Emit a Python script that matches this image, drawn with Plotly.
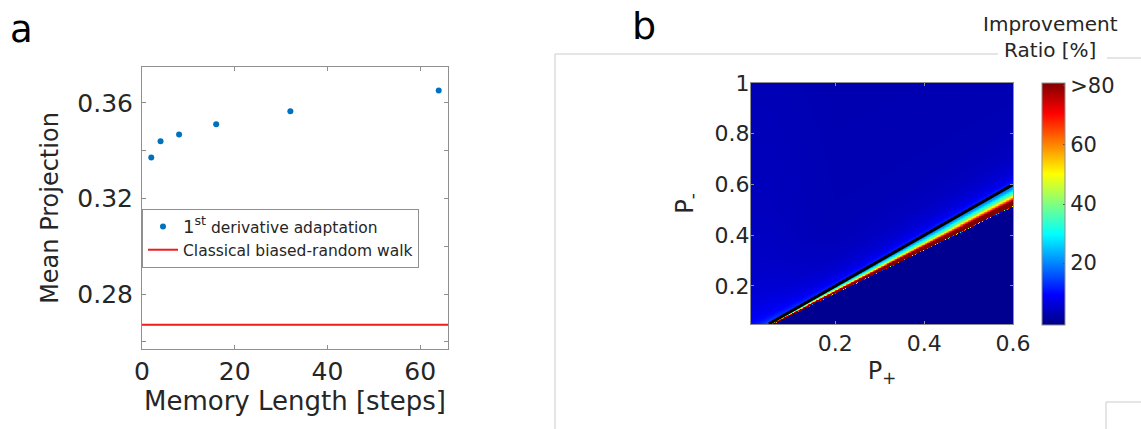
import numpy as np
import plotly.graph_objects as go

W, H = 1141, 429
FONT = "DejaVu Sans"
INK = "#262626"
AXIS_GRAY = "#8f8f8f"
FRAME_GRAY = "#dcdcdc"

# ---- panel a: mean projection vs memory length ----
memory_length = [2, 4, 8, 16, 32, 64]
mean_projection = [0.3371, 0.3439, 0.3468, 0.3510, 0.3565, 0.3652]
classical_level = 0.2671
memory_span = [0, 66]
proj_ticks = [0.26, 0.28, 0.30, 0.32, 0.34, 0.36]
proj_labels = ["", "0.28", "", "0.32", "", "0.36"]

# ---- panel b: improvement ratio over (P+, P-) ----
# profile just below the diagonal, indexed by P-/P+
below_ratio = [0.0, 0.855, 0.86, 0.89, 0.905, 0.92, 0.935, 0.955, 0.975, 1.0]
below_value = [0, 0, 98, 85, 68, 52, 40, 30, 22, 17]
# profile above the diagonal, indexed by P- - P+
above_gap = [0.0, 0.01, 0.03, 0.06, 0.12, 0.25, 0.95]
above_value = [15, 11, 7.5, 5.5, 4, 3, 2.6]
# brighter streaks toward small P+
lift_p_plus = [0.01, 0.05, 0.1, 0.15, 0.2, 0.6]
lift_value = [3, 3, 2, 1, 0, 0]
lift_p_minus = [0.05, 0.2, 0.5, 1.0]
lift_weight = [1.0, 0.6, 0.3, 0.2]

diag_line = [0.05, 0.6]
cbar_ticks = [20, 40, 60, 80]
cbar_labels = ["20", "40", "60", ">80"]
p_plus_ticks = [0.2, 0.4, 0.6]
p_minus_ticks = [0.2, 0.4, 0.6, 0.8, 1.0]
p_minus_labels = ["0.2", "0.4", "0.6", "0.8", "1"]

# grid for the map
p_plus = np.linspace(0.01, 0.6, 360)
p_minus = np.linspace(0.05, 1.0, 360)
PP, PM = np.meshgrid(p_plus, p_minus)
ratio = PM / PP
gap = PM - PP
z_below = np.interp(ratio, below_ratio, below_value)
z_above = (np.interp(gap, above_gap, above_value)
           + np.interp(PP, lift_p_plus, lift_value) * np.interp(PM, lift_p_minus, lift_weight))
improvement = np.round(np.where(ratio < 1.0, z_below, z_above), 2)

jet = [[0.0, "rgb(0,0,132)"], [0.125, "rgb(0,0,255)"], [0.375, "rgb(0,255,255)"],
       [0.625, "rgb(255,255,0)"], [0.875, "rgb(255,0,0)"], [1.0, "rgb(128,0,0)"]]


def px(x):
    return x / W


def py(y):
    return 1 - y / H


fig = go.Figure()

fig.add_trace(go.Scatter(
    x=memory_length, y=mean_projection, mode="markers",
    marker=dict(color="#0072BD", size=6),
    name="<span style='font-size:18px'>1<sup>st</sup></span> derivative adaptation",
    xaxis="x", yaxis="y",
))
fig.add_trace(go.Scatter(
    x=memory_span, y=[classical_level] * len(memory_span), mode="lines",
    line=dict(color="#ee1c1c", width=2),
    name="Classical biased-random walk",
    xaxis="x", yaxis="y",
))

fig.add_trace(go.Heatmap(
    x=p_plus, y=p_minus, z=improvement,
    colorscale=jet, zmin=-1, zmax=81, zsmooth=False,
    xaxis="x2", yaxis="y2", showlegend=False,
    colorbar=dict(
        x=px(1042), xanchor="left", xpad=0,
        y=py(83), yanchor="top", ypad=0,
        len=(325 - 83) / H, lenmode="fraction",
        thickness=23, thicknessmode="pixels",
        outlinewidth=1, outlinecolor=AXIS_GRAY,
        tickvals=cbar_ticks, ticktext=cbar_labels,
        ticks="inside", ticklen=2, tickcolor="#555",
        tickfont=dict(family=FONT, size=21, color=INK),
    ),
))
fig.add_trace(go.Scatter(
    x=diag_line, y=diag_line, mode="lines",
    line=dict(color="black", width=3),
    xaxis="x2", yaxis="y2", showlegend=False,
))

axis_common = dict(
    showline=True, linecolor=AXIS_GRAY, linewidth=1, mirror="ticks",
    ticks="inside", ticklen=4, tickcolor=AXIS_GRAY,
    showgrid=False, zeroline=False, automargin=False,
)

fig.update_layout(
    template="none",
    width=W, height=H,
    margin=dict(l=0, r=0, t=0, b=0, pad=0),
    paper_bgcolor="white", plot_bgcolor="white",
    font=dict(family=FONT, color=INK),
    xaxis=dict(
        domain=[px(142), px(448)], anchor="y", range=memory_span,
        tickvals=[0, 20, 40, 60], tickfont=dict(size=25),
        title=dict(text="Memory Length [steps]", font=dict(size=26), standoff=4),
        **axis_common,
    ),
    yaxis=dict(
        domain=[py(349), py(67)], anchor="x", range=[0.257, 0.375],
        tickvals=proj_ticks, ticktext=proj_labels, tickfont=dict(size=25),
        ticklabelstandoff=3,
        title=dict(text="Mean Projection", font=dict(size=24), standoff=11),
        **axis_common,
    ),
    xaxis2=dict(
        domain=[px(751), px(1013)], anchor="y2", range=[0.01, 0.6],
        tickvals=p_plus_ticks, tickfont=dict(size=22),
        title=dict(text="P<sub>+</sub>", font=dict(size=24), standoff=6),
        **{**axis_common, "ticklen": 3},
    ),
    yaxis2=dict(
        domain=[py(324), py(83)], anchor="x2", range=[0.05, 1.0],
        tickvals=p_minus_ticks, ticktext=p_minus_labels, tickfont=dict(size=22),
        ticklabelstandoff=-4,
        title=dict(text="P<sub>-</sub>", font=dict(size=24), standoff=14),
        **{**axis_common, "ticklen": 3},
    ),
    legend=dict(
        x=px(142), y=py(209), xanchor="left", yanchor="top",
        bgcolor="white", bordercolor=AXIS_GRAY, borderwidth=1,
        font=dict(family=FONT, size=15.5, color=INK),
        tracegroupgap=0,
    ),
    showlegend=True,
)

# panel letters and colour bar caption
label_style = dict(xref="paper", yref="paper", showarrow=False,
                   xanchor="center", yanchor="middle")
fig.add_annotation(text="a", x=px(21), y=py(30),
                   font=dict(size=37, color="black"), **label_style)
fig.add_annotation(text="b", x=px(644), y=py(26),
                   font=dict(size=38, color="black"), **label_style)
fig.add_annotation(text="Improvement<br>Ratio [%]", x=px(1050), y=py(37),
                   align="center", font=dict(size=20, color=INK), **label_style)

# light frame around panel b
frame_segments = [
    (555, 54, 998, 54),
    (555, 54, 555, 429),
    (1107, 58, 1141, 58),
    (1106, 402, 1141, 402),
    (1106, 402, 1106, 429),
]
for x0, y0, x1, y1 in frame_segments:
    fig.add_shape(type="line", xref="paper", yref="paper",
                  x0=px(x0), y0=py(y0), x1=px(x1), y1=py(y1),
                  line=dict(color=FRAME_GRAY, width=1.5), layer="below")

fig.write_html("out.html")
